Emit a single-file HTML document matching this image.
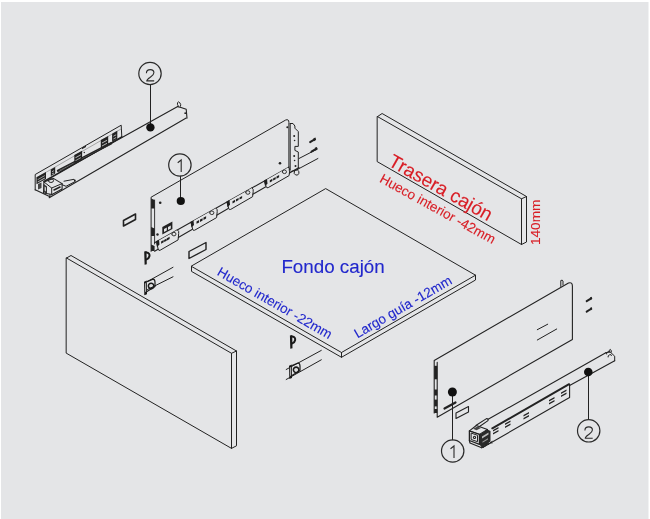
<!DOCTYPE html>
<html><head><meta charset="utf-8">
<style>
html,body{margin:0;padding:0;background:#fff;}
body{width:650px;height:519px;overflow:hidden;position:relative;font-family:"Liberation Sans",sans-serif;}
svg{position:absolute;left:0;top:0;}
</style></head>
<body>
<svg width="650" height="519" viewBox="0 0 650 519">
<rect x="0" y="0" width="650" height="519" fill="#fff"/>
<rect x="1" y="2" width="647.5" height="517" fill="#e4e5e7"/>
<g stroke-linejoin="round" stroke-linecap="round">
<path d="M66.5 258 L231.5 353.3 L231.5 448.4 L66.5 353.3 Z" fill="none" stroke="#222" stroke-width="1.0" />
<path d="M66.5 258 L71 255.5 L236.5 351 L231.5 353.3" fill="none" stroke="#222" stroke-width="1.0" />
<path d="M236.5 351 L236.5 445.8 L231.5 448.4" fill="none" stroke="#222" stroke-width="1.0" />
<path d="M326 188.8 L475.5 275.2 L341.5 352.5 L191.5 266.4 Z" fill="none" stroke="#222" stroke-width="1.0" />
<path d="M191.5 266.4 L191.5 271.4 L341.5 357.3 L475.5 280 L475.5 275.2 M341.5 352.5 L341.5 357.3" fill="none" stroke="#222" stroke-width="1.0" />
<path d="M377.5 116.6 L521.5 198.8 L521.5 244.5 L377.5 161.8 Z" fill="none" stroke="#222" stroke-width="1.0" />
<path d="M377.5 116.6 L382.1 113.5 L526.5 196.5 L521.5 198.8 M526.5 196.5 L526.5 242 L521.5 244.5" fill="none" stroke="#222" stroke-width="1.0" />
<path d="M151.1 251.4 L151.1 197.2 L285.7 120.0 Q288.9 118.8 288.9 122.4 L288.9 170.5" fill="none" stroke="#222" stroke-width="1.0" />
<path d="M154.6 200.1 L154.6 244" fill="none" stroke="#222" stroke-width="0.9" />
<path d="M151.1 198.5 L154.6 200.0 L154.6 208.5 L151.1 208.5 Z" fill="#222"/>
<path d="M151.1 227 L154.6 228.5 L154.6 236 L151.1 236 Z" fill="#222"/>
<path d="M151.1 244.5 L154.6 246.0 L154.6 251 L151.1 251 Z" fill="#222"/>
<path d="M154.6 242.8 L289.1 167" fill="none" stroke="#222" stroke-width="1.1" />
<path d="M154.6 251.2 L299 167.5" fill="none" stroke="#222" stroke-width="1.1" />
<path d="M299 158.5 L317.2 149.1 M299 168.6 L317.9 158.5" fill="none" stroke="#222" stroke-width="1.0" />
<path d="M290.2 123.5 L293 123.5 L294.9 126 L294.9 128.2 L298.3 131.6 L298.3 146.4 L294.9 146.4 L294.9 150.4 L298.3 152 L298.3 169.3 L291 171.5" fill="none" stroke="#222" stroke-width="1.0" />
<path d="M290.2 123.5 L290.2 170" fill="none" stroke="#222" stroke-width="1.0" />
<circle cx="294.2" cy="136" r="1.0" fill="#222" stroke="none" stroke-width="1"/>
<circle cx="294.6" cy="140.5" r="0.8" fill="#222" stroke="none" stroke-width="1"/>
<circle cx="294.2" cy="156" r="1.0" fill="#222" stroke="none" stroke-width="1"/>
<circle cx="294.6" cy="160.5" r="0.8" fill="#222" stroke="none" stroke-width="1"/>
<circle cx="295.5" cy="166" r="1.0" fill="#222" stroke="none" stroke-width="1"/>
<path d="M294.3 171.5 a2.4 2.6 0 1 0 4.5 2 a2.4 2.6 0 1 0 -4.5 -2" fill="none" stroke="#222" stroke-width="1.0" />
<path d="M310.1 142.10000000000002 L314.6 139.4" fill="none" stroke="#222" stroke-width="2.0" stroke-linecap="round"/>
<path d="M313.40000000000003 138.3 L315.5 137.4 L316.1 139.70000000000002 L314.3 141.20000000000002 Z" fill="#222"/>
<path d="M311.5 151.60000000000002 L316.0 148.9" fill="none" stroke="#222" stroke-width="2.0" stroke-linecap="round"/>
<path d="M314.8 147.8 L316.9 146.9 L317.5 149.20000000000002 L315.7 150.70000000000002 Z" fill="#222"/>
<circle cx="160.2" cy="202.8" r="1.3" fill="#222" stroke="none" stroke-width="1"/>
<circle cx="157.5" cy="234.5" r="1.2" fill="#222" stroke="none" stroke-width="1"/>
<circle cx="280" cy="163.2" r="1.3" fill="#222" stroke="none" stroke-width="1"/>
<circle cx="287.3" cy="127.3" r="1.0" fill="#222" stroke="none" stroke-width="1"/>
<path d="M162.3 227 L172.4 221.5 L172.4 229 L162.3 234.5 Z" fill="#222"/>
<path d="M164 229 L166.8 227.5 L166.8 230.5 L164 232 Z" fill="#e4e5e7"/>
<path d="M168 227 L170.8 225.4 L170.8 228.4 L168 230 Z" fill="#e4e5e7"/>
<path d="M156.5 241.7 L177.5 229.9 L178.1 239.9 L158.7 251.0 Z" fill="#e4e5e7"/>
<path d="M177.5 229.9 Q179.3 231.1 178.7 233.4 L178.1 239.9 L160.2 250.2 Q158.7 251.2 158.1 249.0 L156.8 242.7" fill="none" stroke="#222" stroke-width="1.0" />
<path d="M156.0 241.2 L159.0 239.8 L159.5 244.5 L157.0 246.9 Z" fill="#1e1e1e"/>
<path d="M161.1 241.5 L163.7 240.1 L163.7 242.3 L161.1 243.8 Z" fill="#1e1e1e"/>
<path d="M164.1 239.9 L166.7 238.4 L166.7 240.7 L164.1 242.1 Z" fill="#1e1e1e"/>
<path d="M167.0 238.2 L169.6 236.8 L169.6 239.0 L167.0 240.5 Z" fill="#1e1e1e"/>
<path d="M171.8 234.1 a2.1 1.8 0 1 0 4.2 0 a2.1 1.8 0 1 0 -4.2 0" fill="none" stroke="#222" stroke-width="0.9" />
<path d="M191.0 222.3 L216.0 208.2 L216.6 217.6 L193.2 231.0 Z" fill="#e4e5e7"/>
<path d="M216.0 208.2 Q217.8 209.4 217.2 211.7 L216.6 217.6 L194.7 230.2 Q193.2 231.2 192.6 229.0 L191.3 223.3" fill="none" stroke="#222" stroke-width="1.0" />
<path d="M190.5 221.8 L193.5 220.4 L194.0 225.1 L191.5 227.5 Z" fill="#1e1e1e"/>
<path d="M196.5 221.6 L199.1 220.1 L199.1 222.4 L196.5 223.8 Z" fill="#1e1e1e"/>
<path d="M200.0 219.6 L202.6 218.2 L202.6 220.4 L200.0 221.9 Z" fill="#1e1e1e"/>
<path d="M203.5 217.6 L206.1 216.2 L206.1 218.4 L203.5 219.9 Z" fill="#1e1e1e"/>
<path d="M209.7 212.8 a2.1 1.8 0 1 0 4.2 0 a2.1 1.8 0 1 0 -4.2 0" fill="none" stroke="#222" stroke-width="0.9" />
<path d="M227.0 202.0 L252.0 187.9 L252.6 196.7 L229.2 210.2 Z" fill="#e4e5e7"/>
<path d="M252.0 187.9 Q253.8 189.1 253.2 191.4 L252.6 196.7 L230.7 209.4 Q229.2 210.4 228.6 208.2 L227.3 203.0" fill="none" stroke="#222" stroke-width="1.0" />
<path d="M226.5 201.5 L229.5 200.1 L230.0 204.8 L227.5 207.2 Z" fill="#1e1e1e"/>
<path d="M232.5 201.3 L235.1 199.8 L235.1 202.1 L232.5 203.5 Z" fill="#1e1e1e"/>
<path d="M236.0 199.3 L238.6 197.9 L238.6 200.1 L236.0 201.6 Z" fill="#1e1e1e"/>
<path d="M239.5 197.4 L242.1 195.9 L242.1 198.2 L239.5 199.6 Z" fill="#1e1e1e"/>
<path d="M245.7 192.5 a2.1 1.8 0 1 0 4.2 0 a2.1 1.8 0 1 0 -4.2 0" fill="none" stroke="#222" stroke-width="0.9" />
<path d="M264.5 180.9 L288.5 167.3 L289.1 175.6 L266.7 188.4 Z" fill="#e4e5e7"/>
<path d="M288.5 167.3 Q290.3 168.5 289.7 170.8 L289.1 175.6 L268.2 187.6 Q266.7 188.6 266.1 186.4 L264.8 181.9" fill="none" stroke="#222" stroke-width="1.0" />
<path d="M264.0 180.4 L267.0 179.0 L267.5 183.7 L265.0 186.1 Z" fill="#1e1e1e"/>
<path d="M269.8 180.3 L272.4 178.8 L272.4 181.1 L269.8 182.5 Z" fill="#1e1e1e"/>
<path d="M273.1 178.4 L275.7 176.9 L275.7 179.2 L273.1 180.6 Z" fill="#1e1e1e"/>
<path d="M276.5 176.5 L279.1 175.0 L279.1 177.3 L276.5 178.7 Z" fill="#1e1e1e"/>
<path d="M282.3 171.8 a2.1 1.8 0 1 0 4.2 0 a2.1 1.8 0 1 0 -4.2 0" fill="none" stroke="#222" stroke-width="0.9" />
<path d="M35.2 190 L35.2 174.5 L121.2 125.2 L121.8 136.9" fill="none" stroke="#222" stroke-width="1.0" />
<path d="M37 177.5 L121 129" fill="none" stroke="#777" stroke-width="0.6" />
<path d="M44 181.5 L121.8 136.9" fill="none" stroke="#222" stroke-width="1.5" />
<path d="M58 170.8 L111 143.4" fill="none" stroke="#222" stroke-width="2.4" />
<path d="M60 170.3 L110 144.4" fill="none" stroke="#9a9a9a" stroke-width="0.7" stroke-dasharray="0.8 1.2"/>
<path d="M100.8 140.1 L108.2 135.956 L108.2 144.756 L100.8 148.9 Z" fill="#222"/>
<path d="M102.0 142.564 L107.0 139.76399999999998 L107.0 140.664 L102.0 143.464 Z" fill="#bdbdbd"/>
<path d="M102.0 145.55599999999998 L107.0 142.75599999999997 L107.0 143.65599999999998 L102.0 146.456 Z" fill="#bdbdbd"/>
<path d="M112.1 133.7 L117.3 130.78799999999998 L117.3 138.78799999999998 L112.1 141.7 Z" fill="#222"/>
<path d="M113.3 135.94 L116.1 134.37199999999999 L116.1 135.272 L113.3 136.84 Z" fill="#bdbdbd"/>
<path d="M113.3 138.66 L116.1 137.09199999999998 L116.1 137.992 L113.3 139.56 Z" fill="#bdbdbd"/>
<path d="M74.3 155 L82.1 150.632 L82.1 159.032 L74.3 163.4 Z" fill="#222"/>
<path d="M75.5 157.352 L80.89999999999999 154.328 L80.89999999999999 155.228 L75.5 158.252 Z" fill="#bdbdbd"/>
<path d="M75.5 160.208 L80.89999999999999 157.184 L80.89999999999999 158.084 L75.5 161.108 Z" fill="#bdbdbd"/>
<path d="M36.5 177.2 L46.0 171.88 L46.0 178.88 L36.5 184.2 Z" fill="#222"/>
<path d="M37.7 179.16 L44.8 175.184 L44.8 176.084 L37.7 180.06 Z" fill="#bdbdbd"/>
<path d="M37.7 181.54 L44.8 177.564 L44.8 178.464 L37.7 182.44 Z" fill="#bdbdbd"/>
<path d="M50.8 169.5 L55.199999999999996 167.036 L55.199999999999996 173.536 L50.8 176.0 Z" fill="#222"/>
<path d="M52.0 171.32 L53.99999999999999 170.2 L53.99999999999999 171.1 L52.0 172.22 Z" fill="#bdbdbd"/>
<path d="M52.0 173.53 L53.99999999999999 172.41 L53.99999999999999 173.31 L52.0 174.43 Z" fill="#bdbdbd"/>
<path d="M82 147.8 L86 145.6 L86 147 L82 149.2 Z" fill="#222"/>
<circle cx="84.3" cy="152.5" r="0.7" fill="#222" stroke="none" stroke-width="1"/>
<path d="M60 172 L177.7 106.6" fill="none" stroke="#222" stroke-width="1.1" />
<path d="M49.2 197.7 L186.2 118.1" fill="none" stroke="#222" stroke-width="1.1" />
<path d="M177.7 106.6 L181 107.5 L186.2 109.3 L187 118.1" fill="none" stroke="#222" stroke-width="1.1" />
<path d="M178.2 106 a1.5 2.6 -20 1 1 2.4 0.2" fill="none" stroke="#222" stroke-width="1.0" />
<circle cx="185.2" cy="113.2" r="0.9" fill="#222" stroke="none" stroke-width="1"/>
<path d="M35.2 189.8 L50 196.8 L50 188" fill="none" stroke="#222" stroke-width="1.1" />
<path d="M43.9 181.9 L53.4 178.4 L62.1 183.6 L62.1 189 L52 194.5 L43.5 193 Z" fill="#e4e5e7" stroke="#222" stroke-width="1.1" />
<path d="M43.9 181.9 L51.7 188 L62.1 183.6 M51.7 188 L51.7 195" fill="none" stroke="#222" stroke-width="1.0" />
<path d="M48.3 180.6 a2.6 1.9 0 1 0 5.2 0 a2.6 1.9 0 1 0 -5.2 0" fill="none" stroke="#222" stroke-width="1.0" />
<path d="M43.5 183.8 L47 186.5 L47 194 L43.5 192 Z" fill="#333"/>
<path d="M44.6 186.5 L46 187.5 L46 191.5 L44.6 190.5 Z" fill="#ccc"/>
<path d="M38 184 L41.5 182.5 L41.5 188 L38 189.5 Z" fill="#444"/>
<path d="M54 190 L60 187" fill="none" stroke="#222" stroke-width="1.6" />
<path d="M62.1 184.7 L66 186.3 L75.2 181.5 L74 179.3 L64 181.2" fill="none" stroke="#222" stroke-width="1.0" />
<circle cx="74.8" cy="180.5" r="0.9" fill="#222" stroke="none" stroke-width="1"/>
<path d="M123.5 220.5 L135.5 214 L135.5 219.5 L123.5 226 Z" fill="none" stroke="#222" stroke-width="1.6" />
<path d="M189 251.5 L206 242.5 L206 249.5 L189 258.5 Z" fill="none" stroke="#222" stroke-width="1.4" />
<path d="M144.2 251.6 L146.5 251 L146.79999999999998 264.2 L144.6 264.8 Z" fill="#1a1a1a"/>
<path d="M146.39999999999998 252.4 C149.0 252.8 149.79999999999998 254.4 149.39999999999998 256.2 C149.0 258 147.79999999999998 259 146.6 259.4" fill="none" stroke="#1a1a1a" stroke-width="2.0" />
<path d="M289.9 335.6 L292.2 335 L292.5 348.2 L290.29999999999995 348.8 Z" fill="#1a1a1a"/>
<path d="M292.09999999999997 336.4 C294.7 336.8 295.5 338.4 295.09999999999997 340.2 C294.7 342 293.5 343 292.29999999999995 343.4" fill="none" stroke="#1a1a1a" stroke-width="2.0" />
<path d="M147.5 281.5 L173 267.3 M147.5 289.5 L173 276.8" fill="none" stroke="#222" stroke-width="1.0" />
<path d="M144 281.8 L146.8 280.6 L147 294.20000000000005 L144.3 295.20000000000005 Z" fill="#1a1a1a"/>
<path d="M144.9 283.6 L146 283.1 L146.1 291.6 L145 292.1 Z" fill="#aaa"/>
<path d="M147 281.6 L153 279.1 Q155 279.40000000000003 155 282.1 L155 286.6 L147 291.6" fill="none" stroke="#1a1a1a" stroke-width="1.2" />
<path d="M148.4 285.90000000000003 a2.7 2.7 0 1 0 5.4 0 a2.7 2.7 0 1 0 -5.4 0" fill="none" stroke="#1a1a1a" stroke-width="1.6" />
<circle cx="151.1" cy="285.90000000000003" r="1.1" fill="#ddd" stroke="none" stroke-width="1"/>
<path d="M286.2 369.5 L321.3 350.4 M286.2 379.5 L321.3 359.8" fill="none" stroke="#222" stroke-width="1.0" />
<path d="M289 365.7 L291.8 364.5 L292 378.1 L289.3 379.1 Z" fill="#1a1a1a"/>
<path d="M289.9 367.5 L291 367.0 L291.1 375.5 L290 376.0 Z" fill="#aaa"/>
<path d="M292 365.5 L298 363.0 Q300 363.3 300 366.0 L300 370.5 L292 375.5" fill="none" stroke="#1a1a1a" stroke-width="1.2" />
<path d="M293.4 369.8 a2.7 2.7 0 1 0 5.4 0 a2.7 2.7 0 1 0 -5.4 0" fill="none" stroke="#1a1a1a" stroke-width="1.6" />
<circle cx="296.1" cy="369.8" r="1.1" fill="#ddd" stroke="none" stroke-width="1"/>
<path d="M434.2 413 L434.2 360.4 L568.5 283 Q572.4 281.8 572.4 286 L572.4 339.4 L437.2 417.2 L437.2 362.4" fill="none" stroke="#222" stroke-width="1.1" />
<path d="M434.2 365.8 L437.2 365.8 L437.2 379.3 L434.2 379.3 Z" fill="#222"/>
<path d="M434.2 389.5 L437.2 389.5 L437.2 395.5 L434.2 395.5 Z" fill="#222"/>
<path d="M434.2 399.6 L437.2 399.6 L437.2 406.4 L434.2 406.4 Z" fill="#222"/>
<path d="M434.2 409 L437.2 409 L437.2 413 L434.2 413 Z" fill="#222"/>
<path d="M560.8 286.5 L560.8 280.5 Q562.5 279.5 563 281 L563 285" fill="none" stroke="#222" stroke-width="1.0" />
<path d="M537.3 329.7 L547.7 324.2 M537.3 340 L556.7 329" fill="none" stroke="#222" stroke-width="1.0" />
<path d="M586.6999999999999 301.2 L590.8 298.59999999999997" fill="none" stroke="#222" stroke-width="2.0" stroke-linecap="round"/>
<path d="M589.9 297.59999999999997 L591.6999999999999 296.7 L592.3 298.8 L590.6999999999999 300.2 Z" fill="#222"/>
<path d="M586.6999999999999 311.6 L590.8 309.0" fill="none" stroke="#222" stroke-width="2.0" stroke-linecap="round"/>
<path d="M589.9 308.0 L591.6999999999999 307.1 L592.3 309.20000000000005 L590.6999999999999 310.6 Z" fill="#222"/>
<path d="M444.5 408.5 L455.5 402.5" fill="none" stroke="#222" stroke-width="2.2" />
<path d="M456 413 L468.5 406.5 L468.5 412 L456 418.5 Z" fill="none" stroke="#222" stroke-width="1.1" />
<path d="M487.7 419.6 L605.8 352.7" fill="none" stroke="#222" stroke-width="1.1" />
<path d="M569.6 385.6 L614.7 360.8" fill="none" stroke="#222" stroke-width="1.1" />
<path d="M605.8 352.7 L610 351.8 L614.7 356.2 L614.7 360.8" fill="none" stroke="#222" stroke-width="1.0" />
<path d="M606.5 354 a2 1.2 -30 1 1 3.6 -1.6 M609 352 a1.2 2.6 0 1 1 2.4 0 M608 357 a2 1.2 -30 1 1 3.6 -1.6" fill="none" stroke="#222" stroke-width="1.0" />
<path d="M492.3 428.3 L569.1 384.2" fill="none" stroke="#222" stroke-width="2.0" />
<path d="M569.6 384.2 L569.6 397.6 L564.3 400.5 L483.1 447.3" fill="none" stroke="#222" stroke-width="1.1" />
<path d="M523.5 415 L529.0 412 L529.0 413.4 L523.5 416.4 Z" fill="#222"/>
<path d="M523.5 418 L529.0 415 L529.0 416.4 L523.5 419.4 Z" fill="#222"/>
<path d="M549 400 L554.5 397 L554.5 398.4 L549 401.4 Z" fill="#222"/>
<path d="M549 403 L554.5 400 L554.5 401.4 L549 404.4 Z" fill="#222"/>
<path d="M561 392.5 L566.5 389.5 L566.5 390.9 L561 393.9 Z" fill="#222"/>
<path d="M561 395.5 L566.5 392.5 L566.5 393.9 L561 396.9 Z" fill="#222"/>
<path d="M505 423.5 L510.5 420.5 L510.5 421.9 L505 424.9 Z" fill="#222"/>
<path d="M505 426.5 L510.5 423.5 L510.5 424.9 L505 427.9 Z" fill="#222"/>
<path d="M493 430 L498.5 427 L498.5 428.4 L493 431.4 Z" fill="#222"/>
<path d="M493 433 L498.5 430 L498.5 431.4 L493 434.4 Z" fill="#222"/>
<path d="M483.1 447.3 L486 445.5 L487 443 L489.5 443.5 L492 441.5" fill="none" stroke="#222" stroke-width="1.0" />
<path d="M476.2 425.2 L486.5 418.6 Q488.5 418.5 488 420.6 L478.8 427" fill="#e4e5e7" stroke="#222" stroke-width="1.1" />
<path d="M479.4 434.4 L487.5 429.5 L490.5 431 L490.5 441.5 L482 447.8 L479.4 444.4 Z" fill="#2a2a2a"/>
<path d="M482 436.5 L488.5 432.5 L488.5 434.5 L482 438.5 Z" fill="#bbb"/>
<path d="M482.5 441.5 L488 438.3 L488 439.6 L482.5 442.8 Z" fill="#999"/>
<path d="M469.4 430.9 L476.3 425.5 L487.5 429.5 L479.4 434.4 Z" fill="#e4e5e7" stroke="#222" stroke-width="1.1" />
<path d="M473 428.8 L477.5 426.6 L481 428 L476.5 430.3 Z" fill="#444"/>
<path d="M469.4 430.9 L479.4 434.4 L479.4 444.4 L469.4 440.5 Z" fill="#e4e5e7" stroke="#222" stroke-width="1.3" />
<path d="M471.5 433.2 L477.5 435.3 L477.5 441.7 L471.5 439.6 Z" fill="none" stroke="#222" stroke-width="1.0" />
<circle cx="474.5" cy="437.4" r="1.6" fill="#1e1e1e" stroke="none" stroke-width="1"/>
<circle cx="474.5" cy="437.4" r="0.6" fill="#ccc" stroke="none" stroke-width="1"/>
<path d="M469.4 440.5 L470 443 L481.7 447.8" fill="none" stroke="#222" stroke-width="1.2" />
<path d="M482 447.6 L485 446 L486.5 443.8 L488.5 444.4 L490.5 442.5 L492 443" fill="none" stroke="#222" stroke-width="1.0" />
<path d="M150.5 84.7 L150.5 127.4" fill="none" stroke="#222" stroke-width="1.0" />
<path d="M180.5 176.2 L180.5 201" fill="none" stroke="#222" stroke-width="1.0" />
<path d="M452.5 392 L452.5 439.8" fill="none" stroke="#222" stroke-width="1.0" />
<path d="M588.5 372 L588.5 419.6" fill="none" stroke="#222" stroke-width="1.0" />
<circle cx="150" cy="73.5" r="11.2" fill="none" stroke="#2a2a2a" stroke-width="1.2"/>
<circle cx="179.9" cy="165" r="11.2" fill="none" stroke="#2a2a2a" stroke-width="1.2"/>
<circle cx="452.7" cy="451" r="11.2" fill="none" stroke="#2a2a2a" stroke-width="1.2"/>
<circle cx="588.7" cy="430.8" r="11.2" fill="none" stroke="#2a2a2a" stroke-width="1.2"/>
<circle cx="150.4" cy="127.4" r="4.2" fill="#111" stroke="none" stroke-width="1"/>
<circle cx="180.8" cy="201" r="4.1" fill="#111" stroke="none" stroke-width="1"/>
<circle cx="452.4" cy="392" r="4.5" fill="#111" stroke="none" stroke-width="1"/>
<circle cx="588.3" cy="372" r="4.3" fill="#111" stroke="none" stroke-width="1"/>
</g>
<g fill="none" stroke="#2a2a2a" stroke-width="1.1" stroke-linecap="butt" stroke-linejoin="miter">
<path d="M146.4 73.2 C146.4 70.7 148.2 69.6 150.3 69.6 C152.5 69.6 153.9 70.9 153.9 72.8 C153.9 74.9 151.8 76.1 149.9 77.5 C147.9 78.9 146.8 79.9 146.8 80.9 L154.2 80.9"/>
<path d="M177.7 162.8 L181.2 160.0 L181.2 171.9"/>
<path d="M450.5 448.8 L454.0 446.0 L454.0 457.9"/>
<path d="M584.9 430.5 C584.9 428.0 586.7 426.9 588.8 426.9 C591.0 426.9 592.4 428.2 592.4 430.1 C592.4 432.2 590.3 433.4 588.4 434.8 C586.4 436.2 585.3 437.2 585.3 438.2 L592.7 438.2"/>
</g>
<g font-family="Liberation Sans, sans-serif" stroke-width="0.12" opacity="0.995">
<text x="281.4" y="273.2" font-size="18.8" fill="#2026cc" stroke="#2026cc">Fondo cajón</text>
<text transform="translate(216.3,274.6) rotate(30)" font-size="13.5" fill="#2026cc" stroke="#2026cc">Hueco interior -22mm</text>
<text transform="translate(357.4,338.4) rotate(-30)" font-size="13.5" fill="#2026cc" stroke="#2026cc">Largo guía -12mm</text>
<text transform="translate(387.3,165.0) rotate(29.3)" font-size="19" fill="#d81c24" stroke="#d81c24">Trasera cajón</text>
<text transform="translate(378.7,181.4) rotate(29)" font-size="13.5" fill="#d81c24" stroke="#d81c24">Hueco interior -42mm</text>
<text transform="translate(540.4,245) rotate(-90)" font-size="13.6" fill="#d81c24" stroke="#d81c24">140mm</text>
</g>
</svg>
</body></html>
